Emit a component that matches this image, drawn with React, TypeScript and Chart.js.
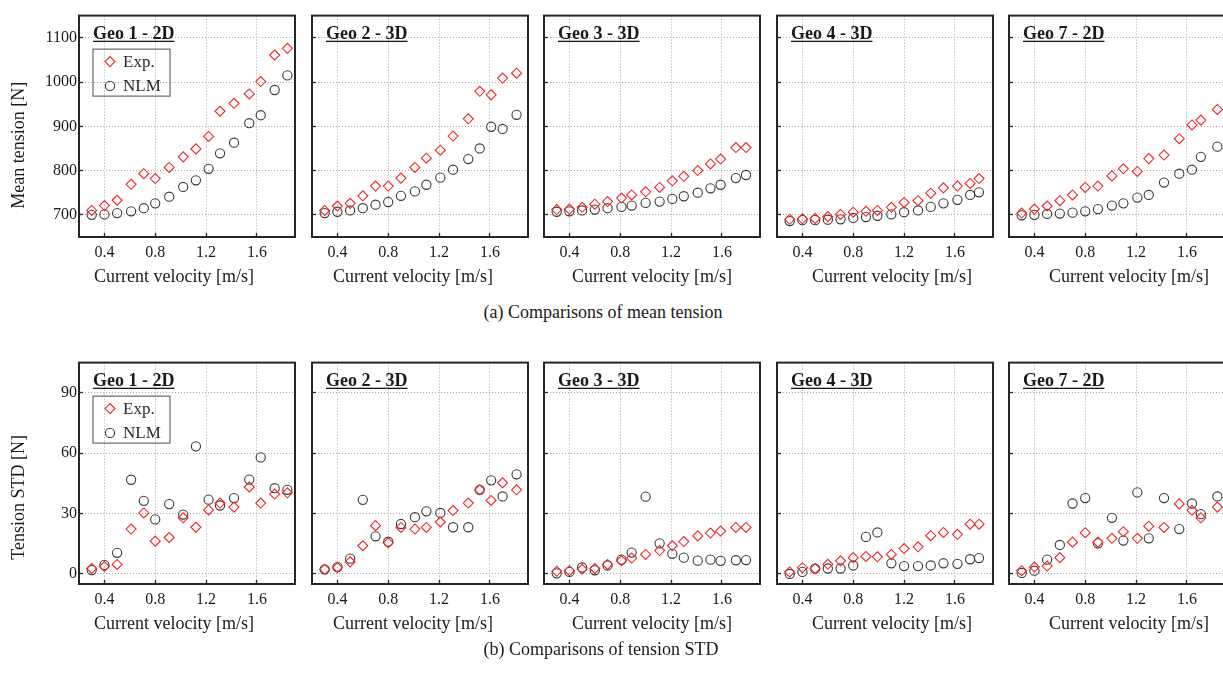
import React, { useEffect, useRef } from 'react';
import { Chart, registerables } from 'chart.js';

// ---------- texts ----------
const GEO_TITLES = ['Geo 1 - 2D', 'Geo 2 - 3D', 'Geo 3 - 3D', 'Geo 4 - 3D', 'Geo 7 - 2D'];
const SERIES_LABELS = ['Exp.', 'NLM'];
const X_TITLE = 'Current velocity [m/s]';
const Y_TITLES = ['Mean tension [N]', 'Tension STD [N]'];
const CAPTIONS = ['(a) Comparisons of mean tension', '(b) Comparisons of tension STD'];

// ---------- ticks / ranges ----------
const X_TICKS = [0.4, 0.8, 1.2, 1.6];
const MEAN_TICKS = [700, 800, 900, 1000, 1100];
const STD_TICKS = [0, 30, 60, 90];
const X_RANGE = [0.2, 1.9];
const MEAN_RANGE = [650, 1150];
const STD_RANGE = [-5, 105];

// ---------- data ----------
const V_GEO1 = [0.30, 0.40, 0.50, 0.61, 0.71, 0.80, 0.91, 1.02, 1.12, 1.22, 1.31, 1.42, 1.54, 1.63, 1.74, 1.84];
const V_GEO2 = [0.30, 0.40, 0.50, 0.60, 0.70, 0.80, 0.90, 1.01, 1.10, 1.21, 1.31, 1.43, 1.52, 1.61, 1.70, 1.81];
const V_GEO3 = [0.30, 0.40, 0.50, 0.60, 0.70, 0.81, 0.89, 1.00, 1.11, 1.21, 1.30, 1.41, 1.51, 1.59, 1.71, 1.79];
const V_GEO4 = [0.30, 0.40, 0.50, 0.60, 0.70, 0.80, 0.90, 0.99, 1.10, 1.20, 1.31, 1.41, 1.51, 1.62, 1.72, 1.79];
const V_GEO7 = [0.30, 0.40, 0.50, 0.60, 0.70, 0.80, 0.90, 1.01, 1.10, 1.21, 1.30, 1.42, 1.54, 1.64, 1.71, 1.84];

const MEAN_EXP_GEO1 = [710, 721, 733, 769, 793, 782, 807, 831, 849, 877, 934, 952, 973, 1001, 1061, 1076];
const MEAN_NLM_GEO1 = [700, 701, 704, 708, 715, 726, 741, 763, 778, 804, 839, 863, 907, 925, 982, 1015];
const MEAN_EXP_GEO2 = [710, 720, 726, 743, 765, 765, 783, 807, 828, 846, 878, 917, 979, 971, 1009, 1020];
const MEAN_NLM_GEO2 = [704, 707, 710, 715, 723, 729, 743, 753, 768, 784, 802, 826, 850, 899, 894, 926];
const MEAN_EXP_GEO3 = [712, 713, 717, 724, 730, 738, 745, 752, 762, 777, 787, 800, 815, 826, 852, 852];
const MEAN_NLM_GEO3 = [707, 708, 710, 712, 715, 718, 721, 727, 730, 736, 742, 750, 760, 768, 783, 790];
const MEAN_EXP_GEO4 = [690, 691, 692, 696, 701, 706, 708, 710, 717, 728, 732, 749, 761, 765, 771, 782];
const MEAN_NLM_GEO4 = [686, 688, 688, 689, 690, 693, 695, 698, 701, 706, 710, 718, 726, 734, 745, 751];
const MEAN_EXP_GEO7 = [704, 713, 720, 732, 745, 762, 765, 788, 804, 798, 827, 835, 872, 903, 914, 938];
const MEAN_NLM_GEO7 = [699, 700, 702, 703, 705, 708, 713, 721, 726, 739, 745, 773, 793, 802, 831, 854];

const STD_EXP_GEO1 = [2.7, 3.7, 4.7, 22.3, 30.3, 16.3, 18.1, 27.9, 23.2, 31.8, 35.2, 33.2, 43.2, 35.2, 39.7, 40.3];
const STD_NLM_GEO1 = [1.9, 4.5, 10.5, 46.8, 36.3, 27.1, 34.7, 29.5, 63.4, 36.9, 34.0, 37.7, 46.9, 57.9, 42.6, 41.8];
const STD_EXP_GEO2 = [2.3, 3.2, 6.0, 14.0, 24.0, 15.5, 23.1, 22.3, 23.1, 25.8, 31.5, 35.2, 41.8, 36.5, 45.3, 41.8];
const STD_NLM_GEO2 = [2.3, 3.4, 7.6, 36.8, 18.7, 16.0, 24.8, 28.2, 31.1, 30.3, 23.2, 23.2, 41.8, 46.5, 38.5, 49.5];
const STD_EXP_GEO3 = [1.3, 1.6, 2.3, 2.7, 4.7, 6.6, 7.9, 9.7, 11.6, 14.0, 16.1, 18.9, 20.3, 21.3, 23.1, 23.1];
const STD_NLM_GEO3 = [0.3, 1.0, 3.2, 1.8, 4.2, 7.1, 10.6, 38.4, 15.2, 10.0, 8.1, 6.6, 7.1, 6.5, 6.8, 6.9];
const STD_EXP_GEO4 = [1.0, 3.1, 2.6, 4.8, 6.5, 8.1, 8.7, 8.5, 9.7, 12.6, 13.5, 19.0, 20.6, 19.7, 24.7, 24.7];
const STD_NLM_GEO4 = [0.0, 1.0, 2.6, 2.7, 2.7, 4.2, 18.4, 20.6, 5.3, 3.9, 3.9, 4.2, 5.3, 5.0, 7.3, 7.9];
const STD_EXP_GEO7 = [1.6, 3.4, 3.9, 8.1, 15.8, 20.5, 15.8, 17.7, 21.0, 17.7, 23.7, 23.1, 34.8, 31.6, 27.9, 33.2];
const STD_NLM_GEO7 = [0.5, 1.6, 7.1, 14.4, 35.0, 37.7, 15.2, 27.9, 16.6, 40.5, 17.7, 37.7, 22.3, 35.0, 29.7, 38.5];

const VELOCITY = [V_GEO1, V_GEO2, V_GEO3, V_GEO4, V_GEO7];
const MEAN_EXP = [MEAN_EXP_GEO1, MEAN_EXP_GEO2, MEAN_EXP_GEO3, MEAN_EXP_GEO4, MEAN_EXP_GEO7];
const MEAN_NLM = [MEAN_NLM_GEO1, MEAN_NLM_GEO2, MEAN_NLM_GEO3, MEAN_NLM_GEO4, MEAN_NLM_GEO7];
const STD_EXP = [STD_EXP_GEO1, STD_EXP_GEO2, STD_EXP_GEO3, STD_EXP_GEO4, STD_EXP_GEO7];
const STD_NLM = [STD_NLM_GEO1, STD_NLM_GEO2, STD_NLM_GEO3, STD_NLM_GEO4, STD_NLM_GEO7];

// ---------- styles / layout ----------
const SERIF = '"Liberation Serif", "Times New Roman", Times, serif';
const RED = '#f02626';
const DARK = '#383838';
const FRAME = '#262626';
const GRID = '#a8a8a8';
const TEXT = '#1a1a1a';

const CANVAS_W = 300;
const CANVAS_H = 300;
const COL_LEFT = [0, 233, 465, 698, 930];
const ROW_TOP = [0, 347];
const X_TITLE_DX = [-13, -7, 0, 7, 12];
const Y_TITLE_DY = [19, 24];

const decorPlugin = {
  id: 'decor',
  beforeDatasetsDraw(chart: any) {
    const { ctx, chartArea: a } = chart;
    ctx.save();
    ctx.strokeStyle = FRAME;
    ctx.lineWidth = 2;
    ctx.strokeRect(a.left, a.top, a.right - a.left, a.bottom - a.top);
    ctx.restore();
  },
  afterDatasetsDraw(chart: any, _args: any, o: any) {
    const { ctx, chartArea: a } = chart;
    ctx.save();
    ctx.fillStyle = TEXT;
    // panel title (bold, underlined)
    ctx.font = `bold 18px ${SERIF}`;
    ctx.textAlign = 'left';
    ctx.textBaseline = 'alphabetic';
    const tx = a.left + 14;
    const ty = a.top + 23.5;
    ctx.fillText(o.title, tx, ty);
    ctx.fillRect(tx, ty + 1.6, ctx.measureText(o.title).width, 1.3);
    // x-axis title
    ctx.font = `18px ${SERIF}`;
    ctx.textAlign = 'center';
    ctx.textBaseline = 'middle';
    ctx.fillText(o.xTitle, (a.left + a.right) / 2 + o.xDx, a.bottom + 40);
    // y-axis title
    if (o.yTitle) {
      ctx.save();
      ctx.translate(19, (a.top + a.bottom) / 2 + o.yDy);
      ctx.rotate(-Math.PI / 2);
      ctx.fillText(o.yTitle, 0, 0);
      ctx.restore();
    }
    // legend with frame
    if (o.legend) {
      const lx = a.left + 14;
      const ly = a.top + 33.5;
      ctx.strokeStyle = '#4a4a4a';
      ctx.lineWidth = 1;
      ctx.strokeRect(lx, ly, 77, 47);
      ctx.font = `17px ${SERIF}`;
      ctx.textAlign = 'left';
      chart.data.datasets.forEach((ds: any, i: number) => {
        const cx = lx + 17;
        const cy = ly + 12.5 + i * 24.3;
        const r = ds.pointRadius;
        ctx.strokeStyle = ds.borderColor;
        ctx.lineWidth = ds.borderWidth;
        ctx.beginPath();
        if (ds.pointStyle === 'rectRot') {
          ctx.moveTo(cx - r, cy);
          ctx.lineTo(cx, cy - r);
          ctx.lineTo(cx + r, cy);
          ctx.lineTo(cx, cy + r);
          ctx.closePath();
        } else {
          ctx.arc(cx, cy, r, 0, Math.PI * 2);
        }
        ctx.stroke();
        ctx.fillStyle = '#2a2a2a';
        ctx.fillText(ds.label, lx + 30, cy + 1);
      });
    }
    ctx.restore();
  },
};

Chart.register(...registerables, decorPlugin);
Chart.defaults.font.family = SERIF;

function buildConfig(row: number, col: number): any {
  const v = VELOCITY[col];
  const exp = row === 0 ? MEAN_EXP[col] : STD_EXP[col];
  const nlm = row === 0 ? MEAN_NLM[col] : STD_NLM[col];
  const yTicks = row === 0 ? MEAN_TICKS : STD_TICKS;
  const yRange = row === 0 ? MEAN_RANGE : STD_RANGE;
  const tickFont = { family: SERIF, size: 16 };
  const gridOpts = {
    color: GRID,
    lineWidth: 1,
    drawTicks: true,
    tickLength: -4,
    tickColor: FRAME,
    tickWidth: 1.3,
    borderDash: [1, 2],
  };
  const borderOpts = { display: false, dash: [1, 2] };
  return {
    type: 'scatter',
    data: {
      datasets: [
        {
          label: SERIES_LABELS[0],
          data: v.map((x, i) => ({ x, y: exp[i] })),
          pointStyle: 'rectRot',
          pointRadius: 5,
          borderColor: RED,
          pointBorderColor: RED,
          backgroundColor: 'rgba(0,0,0,0)',
          pointBackgroundColor: 'rgba(0,0,0,0)',
          borderWidth: 1.1,
          pointBorderWidth: 1.1,
        },
        {
          label: SERIES_LABELS[1],
          data: v.map((x, i) => ({ x, y: nlm[i] })),
          pointStyle: 'circle',
          pointRadius: 4.6,
          borderColor: DARK,
          pointBorderColor: DARK,
          backgroundColor: 'rgba(0,0,0,0)',
          pointBackgroundColor: 'rgba(0,0,0,0)',
          borderWidth: 1.1,
          pointBorderWidth: 1.1,
        },
      ],
    },
    options: {
      responsive: false,
      animation: false,
      devicePixelRatio: 1,
      events: [],
      layout: { padding: { top: 9, right: 5, left: 0, bottom: 0 }, autoPadding: false },
      plugins: {
        legend: { display: false },
        tooltip: { enabled: false },
        decor: {
          title: GEO_TITLES[col],
          xTitle: X_TITLE,
          xDx: X_TITLE_DX[col],
          yTitle: col === 0 ? Y_TITLES[row] : '',
          yDy: Y_TITLE_DY[row],
          legend: col === 0,
        },
      },
      scales: {
        x: {
          type: 'linear',
          min: X_RANGE[0],
          max: X_RANGE[1],
          afterBuildTicks: (s: any) => {
            s.ticks = X_TICKS.map((value) => ({ value }));
          },
          afterFit: (s: any) => {
            s.height = 63;
          },
          grid: gridOpts,
          border: borderOpts,
          ticks: {
            font: tickFont,
            color: TEXT,
            padding: 10,
            maxRotation: 0,
            autoSkip: false,
            callback: (val: any) => Number(val).toFixed(1),
          },
        },
        y: {
          type: 'linear',
          min: yRange[0],
          max: yRange[1],
          afterBuildTicks: (s: any) => {
            s.ticks = yTicks.map((value) => ({ value }));
          },
          afterFit: (s: any) => {
            s.width = 79;
          },
          grid: gridOpts,
          border: borderOpts,
          ticks: {
            font: tickFont,
            color: col === 0 ? TEXT : 'rgba(0,0,0,0)',
            padding: 6,
            autoSkip: false,
            callback: (val: any) => String(val),
          },
        },
      },
    },
  };
}

function Panel({ row, col }: { row: number; col: number }) {
  const ref = useRef<HTMLCanvasElement>(null);
  useEffect(() => {
    const chart = new Chart(ref.current as HTMLCanvasElement, buildConfig(row, col));
    return () => chart.destroy();
  }, [row, col]);
  return (
    <canvas
      ref={ref}
      width={CANVAS_W}
      height={CANVAS_H}
      style={{ position: 'absolute', left: COL_LEFT[col], top: ROW_TOP[row], width: CANVAS_W, height: CANVAS_H, display: 'block' }}
    />
  );
}

export default function App() {
  const panels: { row: number; col: number }[] = [];
  for (let r = 0; r < 2; r++) for (let c = 0; c < 5; c++) panels.push({ row: r, col: c });
  const captionStyle: React.CSSProperties = {
    position: 'absolute',
    width: 600,
    textAlign: 'center',
    fontFamily: SERIF,
    fontSize: 18,
    lineHeight: '22px',
    color: TEXT,
    whiteSpace: 'nowrap',
  };
  return (
    <div style={{ position: 'fixed', left: 0, top: 0, width: 1223, height: 680, overflow: 'hidden', background: '#fff' }}>
      {panels.map((p) => (
        <Panel key={`${p.row}-${p.col}`} row={p.row} col={p.col} />
      ))}
      <div style={{ ...captionStyle, left: 303, top: 301 }}>{CAPTIONS[0]}</div>
      <div style={{ ...captionStyle, left: 301, top: 638 }}>{CAPTIONS[1]}</div>
    </div>
  );
}
